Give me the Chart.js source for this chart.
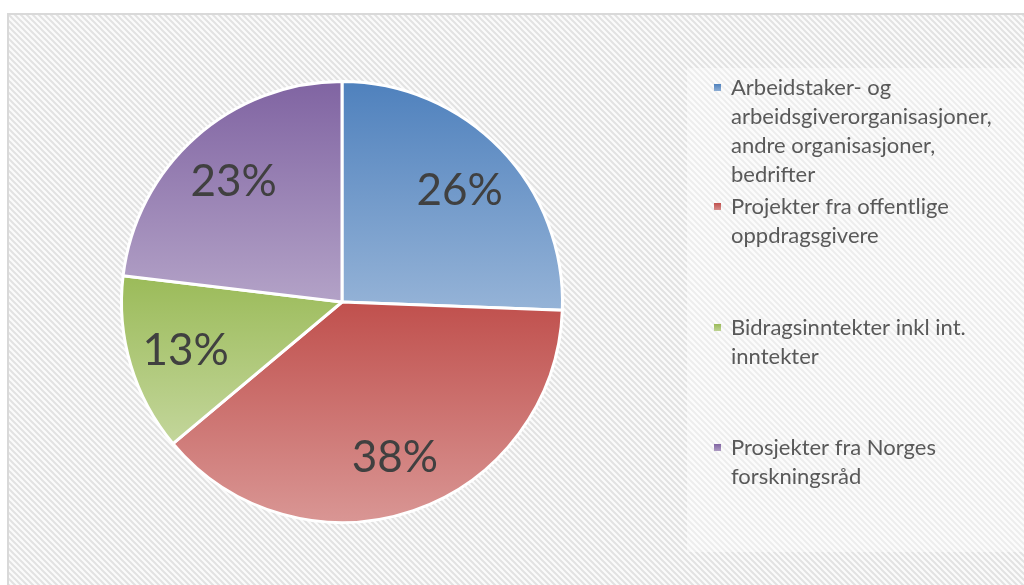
<!DOCTYPE html>
<html>
<head>
<meta charset="utf-8">
<script src="https://cdn.jsdelivr.net/npm/chart.js@4"></script>
<style>
    body { margin: 0; background: #fff; }
    #wrap { width: 1024px; height: 585px; }
</style>
</head>
<body>
<div id="wrap"><canvas id="canvas1" width="1024" height="585"></canvas></div>
<script>
// data
let labels = [
    ['Arbeidstaker- og', 'arbeidsgiverorganisasjoner,', 'andre organisasjoner,', 'bedrifter'],
    ['Projekter fra offentlige', 'oppdragsgivere'],
    ['Bidragsinntekter inkl int.', 'inntekter'],
    ['Prosjekter fra Norges', 'forskningsråd']
];
let shares = [25.6, 38.3, 13.0, 23.1];
let topColors = ['#4f81bd', '#c0504d', '#9bbb59', '#8064a2'];
let bottomColors = ['#95b3d7', '#d99694', '#c3d69b', '#b3a2c7'];

// vertical gradient over the bounding box of each slice
function sliceGradient(context) {
    let chart = context.chart;
    let i = context.dataIndex;
    let area = chart.chartArea;
    if (!area || i === undefined) {
        return topColors[i || 0];
    }
    let cx = (area.left + area.right) / 2;
    let cy = (area.top + area.bottom) / 2;
    let r = (Math.min(area.width, area.height) - 3) / 2;
    let total = shares.reduce((a, b) => a + b, 0);
    let before = 0;
    for (let k = 0; k < i; k++) before += shares[k];
    let a0 = -Math.PI / 2 + 2 * Math.PI * before / total;
    let a1 = a0 + 2 * Math.PI * shares[i] / total;
    let ys = [cy, cy + r * Math.sin(a0), cy + r * Math.sin(a1)];
    [Math.PI / 2, 3 * Math.PI / 2].forEach(function (a) {
        if (a > a0 && a < a1) ys.push(cy + r * Math.sin(a));
    });
    let g = chart.ctx.createLinearGradient(0, Math.min.apply(null, ys), 0, Math.max.apply(null, ys));
    g.addColorStop(0, topColors[i]);
    g.addColorStop(1, bottomColors[i]);
    return g;
}

function hatch(ctx) {
    let p = document.createElement('canvas');
    p.width = 6;
    p.height = 6;
    let c = p.getContext('2d');
    c.fillStyle = '#fbfbfb';
    c.fillRect(0, 0, 6, 6);
    c.strokeStyle = '#e2e2e2';
    c.lineWidth = 2;
    c.beginPath();
    c.moveTo(-3, -3); c.lineTo(9, 9);
    c.moveTo(-9, -3); c.lineTo(3, 9);
    c.moveTo(3, -3); c.lineTo(15, 9);
    c.stroke();
    return ctx.createPattern(p, 'repeat');
}

let backgroundPlugin = {
    id: 'background',
    beforeDraw: function (chart) {
        let ctx = chart.ctx;
        ctx.save();
        ctx.fillStyle = '#ffffff';
        ctx.fillRect(0, 0, chart.width, chart.height);
        ctx.fillStyle = hatch(ctx);
        ctx.fillRect(9, 15, chart.width - 9, chart.height - 15);
        ctx.strokeStyle = '#d9d9d9';
        ctx.lineWidth = 2;
        ctx.strokeRect(8, 14, chart.width + 10, chart.height + 10);
        // legend panel, only slightly lighter than the hatch
        ctx.fillStyle = 'rgba(255,255,255,0.4)';
        ctx.fillRect(687, 68, chart.width, 484);
        ctx.restore();
    }
};

let labelPlugin = {
    id: 'sliceLabels',
    afterDatasetsDraw: function (chart) {
        let ctx = chart.ctx;
        let meta = chart.getDatasetMeta(0);
        let total = shares.reduce((a, b) => a + b, 0);
        ctx.save();
        ctx.font = '44px Lato';
        ctx.fillStyle = '#404040';
        ctx.textAlign = 'center';
        ctx.textBaseline = 'alphabetic';
        meta.data.forEach(function (arc, i) {
            let mid = (arc.startAngle + arc.endAngle) / 2;
            let r = arc.outerRadius * 0.74;
            let txt = Math.round(shares[i] / total * 100) + '%';
            // baseline set so the digits sit centred on the point
            ctx.fillText(txt, arc.x + Math.cos(mid) * r, arc.y + Math.sin(mid) * r + 16);
        });
        ctx.restore();
    }
};

let legendPlugin = {
    id: 'sideLegend',
    afterDraw: function (chart) {
        let ctx = chart.ctx;
        let firstY = [88, 207, 328, 448];
        ctx.save();
        ctx.font = '22px Lato';
        ctx.textBaseline = 'middle';
        labels.forEach(function (lines, i) {
            let y = firstY[i];
            let g = ctx.createLinearGradient(0, y - 4, 0, y + 4);
            g.addColorStop(0, topColors[i]);
            g.addColorStop(1, bottomColors[i]);
            ctx.fillStyle = g;
            ctx.fillRect(714, y - 4, 7, 7);
            ctx.fillStyle = '#595959';
            lines.forEach(function (line, j) {
                ctx.fillText(line, 731, y + j * 29);
            });
        });
        ctx.restore();
    }
};

let ctx1 = document.getElementById('canvas1').getContext('2d');
let pie = new Chart(ctx1, {
    type: 'pie',
    data: {
        labels: labels,
        datasets: [{
            data: shares,
            backgroundColor: sliceGradient,
            borderColor: '#ffffff',
            borderWidth: 3
        }]
    },
    options: {
        responsive: false,
        animation: false,
        layout: {
            padding: {left: 120, top: 80, right: 460, bottom: 61}
        },
        plugins: {
            legend: {display: false},
            tooltip: {enabled: false}
        }
    },
    plugins: [backgroundPlugin, labelPlugin, legendPlugin]
});
</script>
</body>
</html>
